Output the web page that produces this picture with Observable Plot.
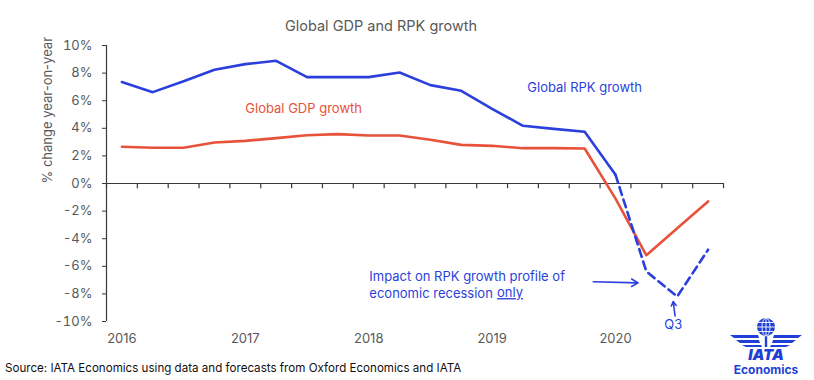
<!DOCTYPE html>
<html>
<head>
<meta charset="utf-8">
<script src="https://cdn.jsdelivr.net/npm/d3@7"></script>
<script src="https://cdn.jsdelivr.net/npm/@observablehq/plot@0.6"></script>
<style>
  body { margin: 0; background: #fff; font-family: Inter, "Noto Sans", sans-serif; }
  #wrap { position: relative; width: 814px; height: 380px; overflow: hidden; }
  #source { position: absolute; left: 5px; top: 361px; font-size: 11.6px; color: #111; white-space: nowrap; }
  #logo { position: absolute; left: 728px; top: 318px; }
  .only-u text { text-decoration: underline; }
</style>
</head>
<body>
<div id="wrap">
  <div id="chart"></div>
  <div id="source">Source: IATA Economics using data and forecasts from Oxford Economics and IATA</div>
  <svg id="logo" width="80" height="60" viewBox="0 0 80 60">
    <g fill="#1f3fd6" stroke="none">
      <circle cx="38" cy="9" r="9"/>
      <path d="M2 17 L30 17 L31 20 L6 20 Z M8 22 L31 22 L32 25 L12 25 Z M14 27 L33 27 L34 29 L18 29 Z"/>
      <path d="M74 17 L46 17 L45 20 L70 20 Z M68 22 L45 22 L44 25 L64 25 Z M62 27 L43 27 L42 29 L58 29 Z"/>
      <rect x="36.8" y="17" width="2.4" height="12"/>
    </g>
    <g fill="none" stroke="#fff" stroke-width="0.9">
      <ellipse cx="38" cy="9" rx="4" ry="9"/>
      <line x1="38" y1="0" x2="38" y2="18"/>
      <line x1="29" y1="9" x2="47" y2="9"/>
      <line x1="30.5" y1="4.5" x2="45.5" y2="4.5"/>
      <line x1="30.5" y1="13.5" x2="45.5" y2="13.5"/>
    </g>
    <text x="38" y="41.5" text-anchor="middle" font-family="Inter, sans-serif" font-weight="900" font-style="italic" font-size="15" fill="#1f3fd6">IATA</text>
    <text x="38" y="56" text-anchor="middle" font-family="Inter, sans-serif" font-weight="700" font-size="12" fill="#1f3fd6">Economics</text>
  </svg>
</div>
<script>
// Quarters 2016Q1 .. 2020Q4
const quarters = ["2016Q1","2016Q2","2016Q3","2016Q4","2017Q1","2017Q2","2017Q3","2017Q4",
  "2018Q1","2018Q2","2018Q3","2018Q4","2019Q1","2019Q2","2019Q3","2019Q4",
  "2020Q1","2020Q2","2020Q3","2020Q4"];
const gdpGrowth = [2.66, 2.59, 2.59, 2.97, 3.09, 3.29, 3.5, 3.58, 3.48, 3.48, 3.17, 2.8,
  2.73, 2.56, 2.56, 2.54, -1.1, -5.2, -3.25, -1.3];
const rpkGrowth = [7.35, 6.62, 7.41, 8.24, 8.65, 8.89, 7.71, 7.71, 7.71, 8.04, 7.13, 6.72,
  5.41, 4.18, 3.96, 3.75, 0.63];
const rpkRecessionQuarters = ["2020Q1","2020Q2","2020Q3","2020Q4"];
const rpkRecession = [0.63, -6.38, -8.19, -4.8];
const yearLabels = ["2016","2017","2018","2019","2020"];
const yTicks = [-10, -8, -6, -4, -2, 0, 2, 4, 6, 8, 10];

const qi = q => quarters.indexOf(q);
const yearX = y => quarters.indexOf(y + "Q1");
const boundaries = d3.range(quarters.length + 1).map(i => i - 0.5);

const BLUE = "#2b3fdc";
const RED = "#e8523b";
const GREY = "#595959";
const AXIS = "#3a3a3a";

const gdp = gdpGrowth.map((v, i) => ({q: quarters[i], v}));
const rpk = rpkGrowth.map((v, i) => ({q: quarters[i], v}));
const rpkRec = rpkRecession.map((v, i) => ({q: rpkRecessionQuarters[i], v}));

const chart = Plot.plot({
  width: 814,
  height: 380,
  marginTop: 45,
  marginBottom: 59,
  marginLeft: 106,
  marginRight: 91,
  style: {fontFamily: "Inter, 'Noto Sans', sans-serif", fontSize: "13px", background: "transparent"},
  x: {domain: [-0.5, quarters.length - 0.5], axis: null},
  y: {domain: [-10, 10], axis: null},
  marks: [
    Plot.axisY(yTicks, {tickFormat: d => d + "%", tickSize: 4, tickPadding: 10, fontSize: 13, color: GREY, stroke: AXIS, label: null}),
    Plot.ruleX([-0.5], {stroke: AXIS, strokeWidth: 1.2}),
    Plot.ruleY([0], {stroke: AXIS, strokeWidth: 1.2}),
    Plot.ruleX(boundaries, {x: d => d, y1: 0, y2: -0.38, stroke: AXIS, strokeWidth: 1.2}),
    Plot.text(yearLabels, {x: yearX, text: d => d, frameAnchor: "bottom", dy: 21, fill: GREY, fontSize: 13}),
    Plot.text(["% change year-on-year"], {frameAnchor: "left", dx: -59, rotate: -90, fill: GREY, fontSize: 13}),
    Plot.text(["Global GDP and RPK growth"], {frameAnchor: "top", dx: -34, dy: -25, fill: GREY, fontSize: 14.5}),
    Plot.line(gdp, {x: d => qi(d.q), y: "v", stroke: RED, strokeWidth: 2.6}),
    Plot.line(rpk, {x: d => qi(d.q), y: "v", stroke: BLUE, strokeWidth: 2.6}),
    Plot.line(rpkRec, {x: d => qi(d.q), y: "v", stroke: BLUE, strokeWidth: 2.6, strokeDasharray: "8,5"}),
    Plot.text(["Global RPK growth"], {x: 13.14, y: 6.93, textAnchor: "start", fill: BLUE, fontSize: 13}),
    Plot.text(["Global GDP growth"], {x: 4.0, y: 5.41, textAnchor: "start", fill: RED, fontSize: 13}),
    Plot.text(["Impact on RPK growth profile of\neconomic recession "], {x: 8.02, y: -7.31, textAnchor: "start", fill: BLUE, fontSize: 13, lineHeight: 1.3}),
    Plot.text(["only"], {x: 12.16, y: -7.93, textAnchor: "start", fill: BLUE, fontSize: 13, className: "only-u"}),
    Plot.arrow([0], {x1: 15.28, y1: -7.12, x2: 16.73, y2: -7.2, stroke: BLUE, strokeWidth: 1.6, headLength: 7}),
    Plot.arrow([0], {x1: 17.93, y1: -9.6, x2: 17.87, y2: -8.55, stroke: BLUE, strokeWidth: 1.6, headLength: 7}),
    Plot.text(["Q3"], {x: 17.87, y: -10.26, fill: BLUE, fontSize: 13})
  ]
});
document.getElementById("chart").appendChild(chart);
</script>
</body>
</html>
